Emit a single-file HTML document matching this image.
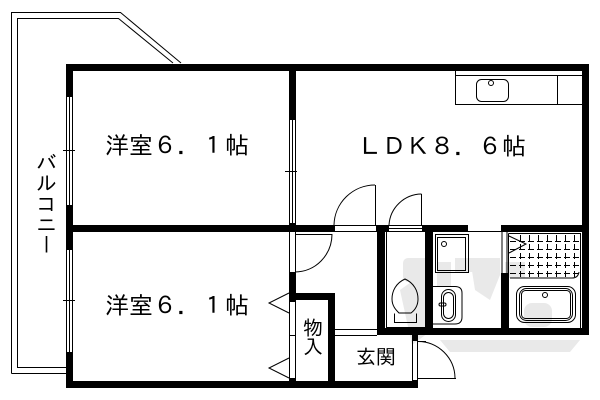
<!DOCTYPE html>
<html><head><meta charset="utf-8"><style>
html,body{margin:0;padding:0;background:#fff}
#w{position:relative;width:600px;height:400px;overflow:hidden;background:#fff}
svg{position:absolute;left:0;top:0}
.t{position:absolute;font-family:"Liberation Sans","IPAGothic","Noto Sans CJK JP",sans-serif;color:#000;white-space:nowrap;line-height:1;font-weight:400}
.v{writing-mode:vertical-rl}
</style></head><body><div id="w">
<svg width="600" height="400" viewBox="0 0 600 400">
<g fill="#e9e9e9">
<rect x="403" y="258" width="30" height="24" rx="5"/><rect x="437" y="262" width="14" height="24"/><rect x="455" y="258" width="22" height="14"/>
<path d="M400 290 L425 272 L432 330 L412 345 Z"/><path d="M470 258 H500 V275 L490 300 L475 290 Z"/>
<rect x="524" y="303" width="28" height="24" rx="8"/><path d="M440 340 H580 L570 352 H450 Z"/><rect x="505" y="262" width="20" height="16"/>
</g>
<g fill="#000" shape-rendering="crispEdges">
<rect x="66" y="64" width="523" height="7"/><rect x="66" y="64" width="7" height="33"/><rect x="66" y="205" width="7" height="45"/><rect x="66" y="352" width="7" height="36"/>
<rect x="66" y="381" width="352" height="7"/><rect x="66" y="225" width="523" height="7"/><rect x="582" y="64" width="7" height="271"/>
<rect x="289" y="64" width="7" height="56"/><rect x="289" y="223" width="7" height="9"/><rect x="289" y="272" width="7" height="30"/><rect x="289" y="378" width="7" height="3"/>
<rect x="289" y="293" width="46" height="7"/><rect x="328" y="293" width="7" height="88"/>
<rect x="377" y="225" width="8" height="110"/><rect x="377" y="328" width="212" height="7"/><rect x="426" y="225" width="7" height="110"/><rect x="501" y="273" width="7" height="62"/>
<rect x="412" y="335" width="6" height="6"/><rect x="412" y="380" width="6" height="8"/>
</g>
<g fill="#fff" shape-rendering="crispEdges">
<rect x="335" y="225" width="41" height="7"/><rect x="389" y="225" width="33" height="7"/><rect x="468" y="225" width="33" height="6"/>
</g>
<g fill="none" stroke="#000" stroke-width="1">
<path d="M11.5 373.5V12.5H120.5L181 63M66 373.5H11.5"/>
<path d="M66 367.5H17.5V18.5H118.5L173 63"/>
<g shape-rendering="crispEdges">
<path d="M66.5 97V205M69.5 97V205M72.5 97V205M66.5 250V352M69.5 250V352M72.5 250V352M63 150.5H75M63 300.5H75"/>
<path d="M289.5 120V223M292.5 120V223M295.5 120V223M285 171.5H297"/>
<path d="M289.5 232V272M295.5 232V272M289.5 302V378M295.5 302V378M289 335.5H296"/>
<path d="M335 225.5H376M335 231.5H376M389 225.5H422M389 228.5H422M389 231.5H422M468 231.5H501"/>
<path d="M375.5 185V225M421.5 194V225M295 234.5H332M335 329.5H377M412.5 341V380M417.5 341V380M418 341.5H426M418 378.5H456"/>
<path d="M335 335.5H377M502 232V273M507 232V273"/>
<path d="M386.5 232V327.5H425.5V232"/>
<path d="M455.5 71V104.5H582M455.5 75.5H582M557.5 75V104"/>
<rect x="435.5" y="234.5" width="33" height="38"/><rect x="437.5" y="237.5" width="28" height="33"/>
<path d="M508.5 233.5H580.5V328M508.5 233.5V328"/>
<path d="M394.5 313.5V322.5H416.5V313.5"/>
</g>
<path d="M375 185A41 41 0 0 0 334 225M421.5 194A33 33 0 0 0 389 225M332 234A37 38 0 0 1 295 272M418 341.5A37 37 0 0 1 455 378"/>
<path d="M289 293L269 303L289 313M289 358L269 368L289 378M509 236L526 244L509 253"/>
<rect x="476.5" y="79.5" width="32" height="22" rx="5"/><circle cx="491" cy="83" r="2.5"/>
<circle cx="444" cy="244" r="2.5"/>
<path d="M405 279C396 283 392 291 392 299C392 306 396 310 399 313H411C415 310 418 306 418 299C418 291 414 283 405 279Z"/>
<path d="M433 286.5H455Q462 286.5 462 293V317Q462 324 455 324H433"/>
<rect x="441.5" y="289.5" width="14" height="32" rx="7"/><rect x="443.5" y="292.5" width="10" height="26" rx="5"/><rect x="439" y="303" width="7" height="3" rx="1.5"/>
<path d="M510 278H572Q578 278 579 272"/>
<g stroke-dasharray="6 3">
<path d="M510 241.5H579M510 249.5H579M510 257.5H579M510 265.5H579M510 273.5H579"/>
<path d="M520.5 235V278M529.5 235V278M538.5 235V278M547.5 235V278M556.5 235V278M565.5 235V278M574.5 235V278"/>
</g>
<rect x="516.5" y="286.5" width="59" height="36" rx="8"/><rect x="519.5" y="288.5" width="53" height="32" rx="7"/><rect x="521.5" y="290.5" width="49" height="28" rx="4"/>
<circle cx="545" cy="295" r="2.5"/>
</g>
</svg>
<div class="t" style="left:105px;top:135px;font-size:24px">洋室&#xFF16;&#xFF0E;&#xFF11;帖</div>
<div class="t" style="left:105px;top:295px;font-size:24px">洋室&#xFF16;&#xFF0E;&#xFF11;帖</div>
<div class="t" style="left:358px;top:136px;font-size:24px">&#xFF2C;&#xFF24;&#xFF2B;&#xFF18;&#xFF0E;&#xFF16;帖</div>
<div class="t v" style="left:35px;top:152px;font-size:20.5px">バルコニー</div>
<div class="t v" style="left:302px;top:316px;font-size:20px">物入</div>
<div class="t" style="left:356px;top:348px;font-size:20px">玄関</div>
</div></body></html>
